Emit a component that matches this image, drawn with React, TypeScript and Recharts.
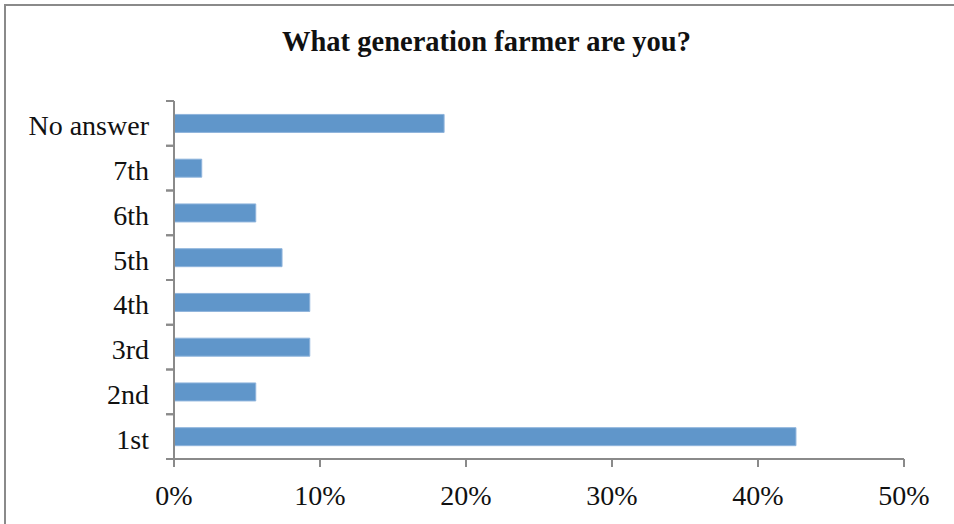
import { Bar, BarChart, XAxis, YAxis } from "recharts";

const categories = ["1st", "2nd", "3rd", "4th", "5th", "6th", "7th", "No answer"];
const shares = [42.6, 5.6, 9.3, 9.3, 7.4, 5.6, 1.9, 18.5];
const xTicks = [0, 10, 20, 30, 40, 50];

const data = categories.map((name, i) => ({ name, value: shares[i] }));

const AXIS = "#8a8a8a";
const FONT = "'Liberation Serif', 'Times New Roman', serif";
const PLOT_LEFT = 174;
const PLOT_TOP = 101;
const PLOT_BOTTOM = 459;
const BAND = (PLOT_BOTTOM - PLOT_TOP) / categories.length;

function CategoryTick(props: any) {
  const { x, y, payload } = props;
  return (
    <g>
      <line x1={PLOT_LEFT - 8} x2={PLOT_LEFT} y1={y - BAND / 2} y2={y - BAND / 2} stroke={AXIS} strokeWidth={2} />
      <line x1={PLOT_LEFT - 8} x2={PLOT_LEFT} y1={y + BAND / 2} y2={y + BAND / 2} stroke={AXIS} strokeWidth={2} />
      <text x={x} y={y} dy={12} textAnchor="end" fill="#111" fontSize={28} fontFamily={FONT}>
        {payload.value}
      </text>
    </g>
  );
}

export default function App() {
  return (
    <div style={{ position: "absolute", left: 0, top: 0, width: 954, height: 524, overflow: "hidden", background: "#fff" }}>
      <div
        style={{
          position: "absolute",
          left: 4,
          top: 4,
          width: 1000,
          height: 600,
          borderLeft: `2px solid ${AXIS}`,
          borderTop: `2px solid ${AXIS}`,
        }}
      />
      <div
        style={{
          position: "absolute",
          top: 26,
          left: 0,
          width: 973,
          textAlign: "center",
          fontFamily: FONT,
          fontWeight: "bold",
          fontSize: 28.5,
          color: "#111",
        }}
      >
        What generation farmer are you?
      </div>
      <div style={{ position: "absolute", left: 0, top: 0 }}>
        <BarChart
          width={954}
          height={524}
          data={data}
          layout="vertical"
          barCategoryGap="30%"
          margin={{ top: PLOT_TOP, right: 50, bottom: 0, left: 0 }}
        >
          <XAxis
            type="number"
            domain={[0, 50]}
            ticks={xTicks}
            tickFormatter={(v) => `${v}%`}
            height={65}
            axisLine={{ stroke: AXIS, strokeWidth: 2 }}
            tickLine={{ stroke: AXIS, strokeWidth: 2 }}
            tickSize={8}
            tickMargin={18}
            tick={{ fill: "#111", fontSize: 28, fontFamily: FONT }}
          />
          <YAxis
            type="category"
            dataKey="name"
            reversed
            width={PLOT_LEFT}
            axisLine={{ stroke: AXIS, strokeWidth: 2 }}
            tickLine={false}
            tickSize={8}
            tickMargin={17}
            tick={<CategoryTick />}
            interval={0}
          />
          <Bar dataKey="value" fill="#6096CA" stroke="#8fb4dc" strokeWidth={1} isAnimationActive={false} />
        </BarChart>
      </div>
    </div>
  );
}
